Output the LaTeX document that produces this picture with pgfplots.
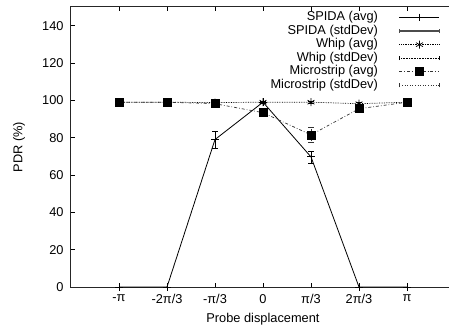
\documentclass[border=0pt]{standalone}
\usepackage{fontspec}
\setmainfont{Liberation Sans}
\usepackage{pgfplots}
\pgfplotsset{compat=1.18}
\pgfplotsset{
 avglegend/.style={legend image code/.code={\draw[mark repeat=2,mark phase=2,##1] plot coordinates {(0pt,0pt) (20pt,0pt) (40pt,0pt)};}},
 sdlegend/.style={legend image code/.code={\draw[##1] (0pt,0pt)--(40pt,0pt); \draw[solid,##1] (0pt,-2pt)--(0pt,2pt) (40pt,-2pt)--(40pt,2pt);}},
}
\begin{document}
\fontsize{12.8}{15}\selectfont
\begin{tikzpicture}
\begin{axis}[
 at={(0,0)}, anchor=south west,
 scale only axis, width=384pt, height=280pt,
 xmin=-4, xmax=4, ymin=0, ymax=150,
 xtick={-3,...,3}, xticklabels={-π,-2π/3,-π/3,0,π/3,2π/3,π},
 ytick={0,20,...,140},
 /pgf/number format/assume math mode=true,
 tick style={black, line width=0.6pt},
 major tick length=4pt,
 axis line style={line width=1pt, black!85},
 xlabel={Probe displacement}, ylabel={PDR (\%)},
 xlabel style={at={(axis description cs:0.5,0)}, anchor=center, yshift=-32pt},
 ylabel style={at={(axis description cs:-0.135,0.5)}, anchor=center, rotate=0},
 yticklabel style={xshift=-3pt},
 xticklabel style={yshift=-3pt},
 legend cell align=right,
 legend plot pos=right,
 legend style={draw=none, fill=none, at={(0.961,0.987)}, anchor=north east,
   inner sep=0pt, outer sep=0pt, column sep=20pt,
   nodes={inner sep=1pt, text height=8.8pt, text depth=2.8pt}},
]
\addplot[black, line width=0.8pt, mark=+, mark size=3.8pt, avglegend,
  error bars/.cd, y dir=both, y explicit, error mark options={rotate=90, mark size=3pt}]
  table[y error=e] {
x y e
-3 0 0
-2 0 0
-1 79 4.4
0 99 0.5
1 69.7 3.2
2 0 0
3 0 0
};
\addlegendentry{SPIDA (avg)}
\addlegendimage{sdlegend, black!70, line width=1.1pt}
\addlegendentry{SPIDA (stdDev)}
\addplot[black, line width=0.7pt, densely dotted, mark=asterisk, mark size=4pt, mark options={solid}, avglegend,
  error bars/.cd, y dir=both, y explicit, error bar style={densely dotted}, error mark options={rotate=90, mark size=3pt, solid}]
  table[y error=e] {
x y e
-3 99 0.5
-2 99 0.5
-1 98.8 0.6
0 99 0.5
1 99 0.5
2 98.2 0.8
3 99 0.5
};
\addlegendentry{Whip (avg)}
\addlegendimage{sdlegend, black, densely dotted, line width=0.6pt}
\addlegendentry{Whip (stdDev)}
\addplot[black!80, line width=0.7pt, dash dot, mark=square*, mark size=4pt, mark options={solid, fill=black, draw=black}, avglegend,
  error bars/.cd, y dir=both, y explicit, error bar style={densely dotted}, error mark options={rotate=90, mark size=3pt, solid}]
  table[y error=e] {
x y e
-3 99 1
-2 99 0.5
-1 98.2 1.2
0 93.4 1
1 81.5 4
2 95.5 1
3 99 0.5
};
\addlegendentry{Microstrip (avg)}
\addlegendimage{sdlegend, black!80, dotted, line width=0.6pt}
\addlegendentry{Microstrip (stdDev)}
\end{axis}
\pgfresetboundingbox
\path (-71pt,-42pt) rectangle (378pt,287pt);
\end{tikzpicture}
\end{document}
